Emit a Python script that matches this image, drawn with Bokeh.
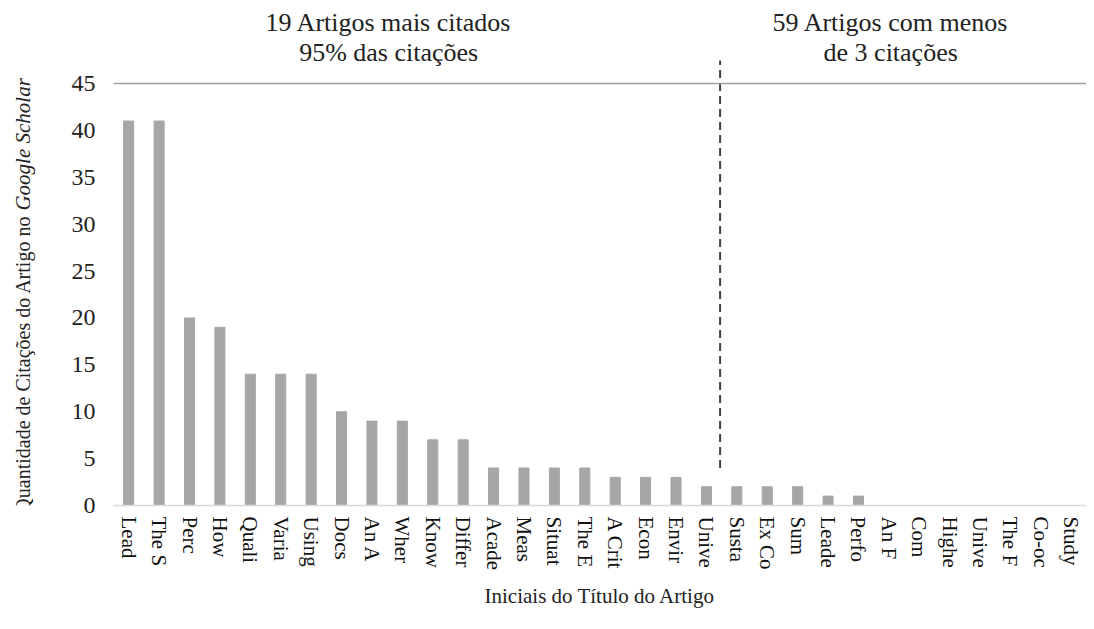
import math
from bokeh.plotting import figure
from bokeh.layouts import row
from bokeh.models import FixedTicker, Span, Label, Range1d
from bokeh.core.properties import value
from bokeh.embed import file_html
from bokeh.resources import INLINE

labels = ["Lead", "The S", "Perc", "How", "Quali", "Varia", "Using", "Docs",
          "An A", "Wher", "Know", "Differ", "Acade", "Meas", "Situat", "The E",
          "A Crit", "Econ", "Envir", "Unive", "Susta", "Ex Co", "Sum", "Leade",
          "Perfo", "An F", "Com", "Highe", "Unive", "The F", "Co-oc", "Study"]
citations = [41, 41, 20, 19, 14, 14, 14, 10, 9, 9, 7, 7, 4, 4, 4, 4,
             3, 3, 3, 2, 2, 2, 2, 1, 1, 0, 0, 0, 0, 0, 0, 0]
y_ticks = [0, 5, 10, 15, 20, 25, 30, 35, 40, 45]
split_after = 19  # index of last article in the top group
y_title = "Quantidade de Citações do Artigo no"
y_title_italic = "Google Scholar"

FONT = "Liberation Serif"
H = 613
LEFT_W = 40
xs = list(range(len(labels)))

# ---- narrow strip holding the (mixed-style) y-axis title ----
pt = figure(width=LEFT_W, height=H, output_backend="svg", toolbar_location=None,
            x_range=Range1d(0, LEFT_W), y_range=Range1d(0, H),
            x_axis_location=None, y_axis_location=None,
            min_border_left=0, min_border_right=0, min_border_top=0, min_border_bottom=0)
pt.outline_line_color = None
pt.xgrid.grid_line_color = None
pt.ygrid.grid_line_color = None
junction = 355
pt.text(x=[22], y=[junction - 3], text=[y_title], angle=math.pi / 2, text_align="right",
        text_baseline="middle", text_font=value(FONT), text_font_size="20px",
        text_color="#222222")
pt.text(x=[22], y=[junction + 3], text=[y_title_italic], angle=math.pi / 2, text_align="left",
        text_baseline="middle", text_font=value(FONT), text_font_size="21px",
        text_font_style="italic", text_color="#222222")

# ---- main chart ----
p = figure(width=1086 - LEFT_W, height=H, output_backend="svg", toolbar_location=None,
           x_range=Range1d(-0.5, len(labels) - 0.5), y_range=Range1d(0, 53.85),
           min_border_left=113 - LEFT_W, min_border_right=0, min_border_top=0,
           min_border_bottom=108)
p.outline_line_color = None
p.xgrid.grid_line_color = None
p.ygrid.grid_line_color = None

p.vbar(x=xs, top=citations, width=0.33, color="#a6a6a8")

p.add_layout(Span(location=45, dimension="width", line_color="#a0a0a0", line_width=1.5))

sx = split_after + 0.45
p.segment(x0=[sx], y0=[4.0], x1=[sx], y1=[47.45], line_color="#404040",
          line_width=2, line_dash="8 5")

p.yaxis.ticker = FixedTicker(ticks=y_ticks)
p.yaxis.axis_line_color = None
p.yaxis.major_tick_line_color = None
p.yaxis.minor_tick_line_color = None
p.yaxis.major_label_text_font = FONT
p.yaxis.major_label_text_font_size = "24px"
p.yaxis.major_label_text_color = "#222222"
p.yaxis.major_label_standoff = 12

p.xaxis.ticker = FixedTicker(ticks=xs)
p.xaxis.major_label_overrides = {i: l for i, l in enumerate(labels)}
p.xaxis.major_label_orientation = "vertical"
p.xaxis.axis_line_color = "#d9d9d9"
p.xaxis.axis_line_width = 1.5
p.xaxis.major_tick_line_color = None
p.xaxis.minor_tick_line_color = None
p.xaxis.major_label_text_font = FONT
p.xaxis.major_label_text_font_size = "21px"
p.xaxis.major_label_text_color = "#111111"
p.xaxis.major_label_standoff = 5
p.xaxis.axis_label = "Iniciais do Título do Artigo"
p.xaxis.axis_label_text_font = FONT
p.xaxis.axis_label_text_font_style = "normal"
p.xaxis.axis_label_text_font_size = "21px"
p.xaxis.axis_label_text_color = "#222222"
p.xaxis.axis_label_standoff = 11

for x, y, t in [(8.55, 51.5, "19 Artigos mais citados"), (8.55, 48.3, "95% das citações"),
                (25.06, 51.5, "59 Artigos com menos"), (25.06, 48.3, "de 3 citações")]:
    p.add_layout(Label(x=x, y=y, text=t, text_align="center", text_baseline="middle",
                       text_font=FONT, text_font_size="26px", text_color="#222222"))

layout = row(pt, p)
open("out.html", "w").write(file_html(layout, INLINE))
